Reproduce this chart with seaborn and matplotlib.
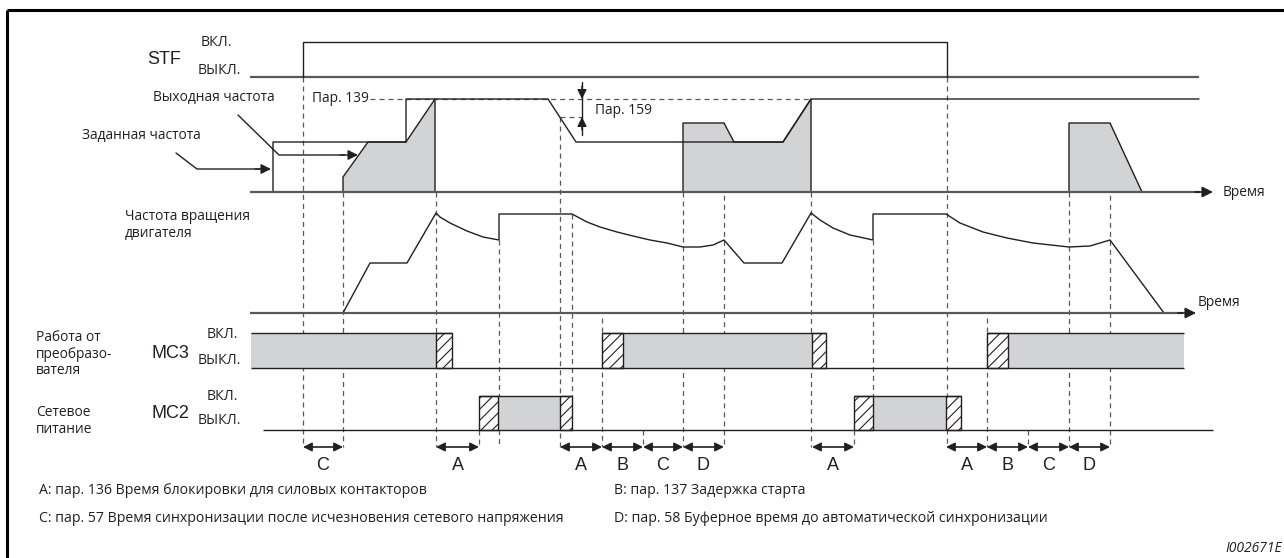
import matplotlib
matplotlib.use('Agg')
import matplotlib.pyplot as plt
import seaborn as sns

sns.set_theme(style='white')
plt.rcParams['font.family'] = ['Open Sans', 'DejaVu Sans']
plt.rcParams['hatch.linewidth'] = 0.8
plt.rcParams['hatch.color'] = '#231f20'
plt.rcParams['lines.scale_dashes'] = False

INK = '#231f20'
RAIL = '#58595b'
FILL = '#d1d3d4'
DASH = (0, (3.6, 2.9))
FS = 9.9        # label text
FS_LEG = 10.2   # footnote text
FS_SIG = 13     # signal names / interval letters
FS_ONOFF = 10.2

# time axis runs left to right in drawing units, levels are drawing units from the top
t_begin, t_end = 250, 1199

# STF start signal
stf_t = [303, 303, 947, 947]
stf_lvl = [77, 42, 42, 77]

# set frequency
setf_t = [273, 273, 406, 406, 548, 576, 783, 811, 1199]
setf_lvl = [192, 142, 142, 99, 99, 142, 142, 99, 99]

# output frequency (shaded areas)
out1_t = [343, 343, 368, 406, 435, 435]
out1_lvl = [192, 177, 142, 142, 99, 192]
out2_t = [683, 683, 724, 734, 783, 811, 811]
out2_lvl = [192, 123, 123, 142, 142, 99, 192]
out3_t = [1069, 1069, 1110, 1142]
out3_lvl = [192, 123, 123, 192]

# motor speed
motor_t = [343, 370, 407, 436, 440, 450, 467, 483, 499, 499, 572, 587, 600, 617,
           633, 650, 667, 683, 700, 713, 724, 744, 782, 811, 820, 833, 850, 873,
           873, 946, 960, 983, 1007, 1033, 1069, 1090, 1110, 1164]
motor_lvl = [313, 263, 263, 213, 217, 223, 231, 237, 240, 214, 214, 222, 227, 232,
             236, 240, 243, 247, 247, 245, 240, 263, 263, 213, 220, 228, 235, 240,
             214, 214, 223, 232, 238, 243, 247, 246, 240, 313]

# contactor MC3 (inverter operation) and MC2 (mains operation)
mc3_on = [(251, 436), (623, 812), (1008, 1184)]
mc3_hatch = [(436, 452), (602, 623), (812, 826), (987, 1008)]
mc3_top = [(251, 452), (602, 826), (987, 1184)]
mc2_on = [(498, 560), (873, 946)]
mc2_hatch = [(479, 498), (560, 572), (854, 873), (946, 961)]
mc2_top = [(479, 572), (854, 961)]

# time intervals A..D
dim_from = [303, 436, 560, 602, 643, 683, 812, 946, 987, 1028, 1069]
dim_to = [343, 479, 602, 643, 683, 724, 854, 987, 1028, 1069, 1110]
dim_label = ['C', 'A', 'A', 'B', 'C', 'D', 'A', 'A', 'B', 'C', 'D']

# event markers: time, from level, to level
mark_t = [303, 343, 436, 479, 499, 560, 572, 602, 643, 683, 724, 811, 854, 873,
          947, 987, 1028, 1069, 1110]
mark_from = [77, 192, 192, 430, 240, 117, 214, 318, 430, 192, 123, 192, 430, 240,
             77, 318, 430, 192, 123]
mark_to = [447, 447, 447, 447, 447, 447, 396, 447, 447, 447, 447, 447, 447, 430,
           447, 447, 447, 447, 447]

legend_left = ['A: пар. 136 Время блокировки для силовых контакторов',
               'C: пар. 57 Время синхронизации после исчезновения сетевого напряжения']
legend_right = ['B: пар. 137 Задержка старта',
                'D: пар. 58 Буферное время до автоматической синхронизации']

fig = plt.figure(figsize=(12.84, 5.58), dpi=100)
ax = fig.add_axes([0, 0, 1, 1])
ax.set_xlim(0, 1284)
ax.set_ylim(558, 0)
ax.axis('off')

# frame
ax.plot([7, 1284], [10, 10], color='black', lw=2.2, solid_capstyle='butt')
ax.plot([7, 7], [10, 558], color='black', lw=2.2, solid_capstyle='butt')

# event markers
ax.vlines(mark_t, mark_from, mark_to, colors=RAIL, lw=0.9, linestyles=DASH, zorder=1)

# STF
ax.hlines(77, t_begin, t_end, colors=RAIL, lw=1.6)
sns.lineplot(x=stf_t, y=stf_lvl, sort=False, estimator=None, color=INK, lw=1.0, ax=ax)
ax.text(164, 60, 'STF', fontsize=FS_SIG, family='Liberation Sans', ha='center', va='center', color=INK)
ax.text(216, 42, 'ВКЛ.', fontsize=FS_ONOFF, ha='center', va='center', color=INK)
ax.text(219, 70, 'ВЫКЛ.', fontsize=FS_ONOFF, ha='center', va='center', color=INK)

# frequency panel
ax.hlines(99, 370, 811, colors=RAIL, lw=0.9, linestyles=DASH)
for tt, ll in [(out1_t, out1_lvl), (out2_t, out2_lvl), (out3_t, out3_lvl)]:
    ax.fill(tt, ll, facecolor=FILL, edgecolor=INK, lw=1.0, zorder=2)
sns.lineplot(x=setf_t, y=setf_lvl, sort=False, estimator=None, color=INK, lw=1.0, ax=ax, zorder=3)
ax.hlines(192, t_begin, 1200, colors=RAIL, lw=1.6, zorder=3)
ax.annotate('', xy=(1213, 192), xytext=(1195, 192),
            arrowprops=dict(arrowstyle='-|>', color=INK, lw=1.2, mutation_scale=16, shrinkA=0, shrinkB=0))
ax.text(1223, 192, 'Время', fontsize=FS, ha='left', va='center', color=INK)
ax.text(312, 98, 'Пар. 139', fontsize=FS, ha='left', va='center', color=INK)
ax.text(153, 98, 'Выходная частота', fontsize=FS, ha='left', va='center', color=INK)
ax.text(82, 136, 'Заданная частота', fontsize=FS, ha='left', va='center', color=INK)
ax.plot([238, 279, 345], [115, 155, 155], color=INK, lw=1.0)
ax.annotate('', xy=(358, 155), xytext=(340, 155),
            arrowprops=dict(arrowstyle='-|>', color=INK, lw=1.0, mutation_scale=15, shrinkA=0, shrinkB=0))
ax.plot([176, 197, 260], [153, 169, 169], color=INK, lw=1.0)
ax.annotate('', xy=(271, 169), xytext=(255, 169),
            arrowprops=dict(arrowstyle='-|>', color=INK, lw=1.0, mutation_scale=15, shrinkA=0, shrinkB=0))

# Par. 159 hysteresis
ax.hlines(117, 560, 582, colors=RAIL, lw=0.9, linestyles=DASH)
ax.plot([582, 582], [82, 135], color=INK, lw=1.0)
ax.annotate('', xy=(582, 99), xytext=(582, 86),
            arrowprops=dict(arrowstyle='-|>', color=INK, lw=1.0, mutation_scale=14, shrinkA=0, shrinkB=0))
ax.annotate('', xy=(582, 117), xytext=(582, 130),
            arrowprops=dict(arrowstyle='-|>', color=INK, lw=1.0, mutation_scale=14, shrinkA=0, shrinkB=0))
ax.text(595, 111, 'Пар. 159', fontsize=FS, ha='left', va='center', color=INK)

# motor speed panel
sns.lineplot(x=motor_t, y=motor_lvl, sort=False, estimator=None, color=INK, lw=1.0, ax=ax)
ax.hlines(313, t_begin, 1183, colors=RAIL, lw=1.6)
ax.annotate('', xy=(1196, 313), xytext=(1178, 313),
            arrowprops=dict(arrowstyle='-|>', color=INK, lw=1.2, mutation_scale=16, shrinkA=0, shrinkB=0))
ax.text(1198, 303, 'Время', fontsize=FS, ha='left', va='center', color=INK)
ax.text(125, 225, 'Частота вращения\nдвигателя', fontsize=FS, ha='left', va='center',
        linespacing=1.1, color=INK)


def contactor(on, hatch, top, y_top, y_bot, rail_from, rail_to):
    ax.broken_barh([(a, b - a) for a, b in on], (y_top, y_bot - y_top),
                   facecolors=FILL, edgecolor='none', zorder=2)
    ax.broken_barh([(a, b - a) for a, b in hatch], (y_top, y_bot - y_top),
                   facecolors='white', edgecolor=INK, hatch='///', lw=1.0, zorder=3)
    for a, b in top:
        ax.hlines(y_top, a, b, colors=INK, lw=1.0, zorder=4)
    ax.hlines(y_bot, rail_from, rail_to, colors=INK, lw=1.0, zorder=4)


contactor(mc3_on, mc3_hatch, mc3_top, 333, 368, 251, 1184)
contactor(mc2_on, mc2_hatch, mc2_top, 396, 430, 263, 1213)

ax.text(36, 354, 'Работа от\nпреобразо-\nвателя', fontsize=FS, ha='left', va='center',
        linespacing=1.1, color=INK)
ax.text(170, 353, 'MC3', fontsize=FS_SIG, family='Liberation Sans', ha='center', va='center', color=INK)
ax.text(238, 334, 'ВКЛ.', fontsize=FS_ONOFF, ha='right', va='center', color=INK)
ax.text(241, 360, 'ВЫКЛ.', fontsize=FS_ONOFF, ha='right', va='center', color=INK)
ax.text(36, 421, 'Сетевое\nпитание', fontsize=FS, ha='left', va='center',
        linespacing=1.1, color=INK)
ax.text(170, 413, 'MC2', fontsize=FS_SIG, family='Liberation Sans', ha='center', va='center', color=INK)
ax.text(238, 397, 'ВКЛ.', fontsize=FS_ONOFF, ha='right', va='center', color=INK)
ax.text(241, 420, 'ВЫКЛ.', fontsize=FS_ONOFF, ha='right', va='center', color=INK)

# interval arrows
for a, b, lab in zip(dim_from, dim_to, dim_label):
    ax.annotate('', xy=(b, 447), xytext=(a, 447),
                arrowprops=dict(arrowstyle='<|-|>', color=INK, lw=1.2, mutation_scale=13,
                                shrinkA=0, shrinkB=0))
    ax.text((a + b) / 2, 466, lab, fontsize=FS_SIG, family='Liberation Sans',
            ha='center', va='center', color=INK)

for i, s in enumerate(legend_left):
    ax.text(39, 490 + 29 * i, s, fontsize=FS_LEG, ha='left', va='center', color=INK)
for i, s in enumerate(legend_right):
    ax.text(614, 490 + 29 * i, s, fontsize=FS_LEG, ha='left', va='center', color=INK)

ax.text(1282, 548, 'I002671E', fontsize=10, style='italic', ha='right', va='center', color=INK)

fig.savefig('out.png', dpi=100)
